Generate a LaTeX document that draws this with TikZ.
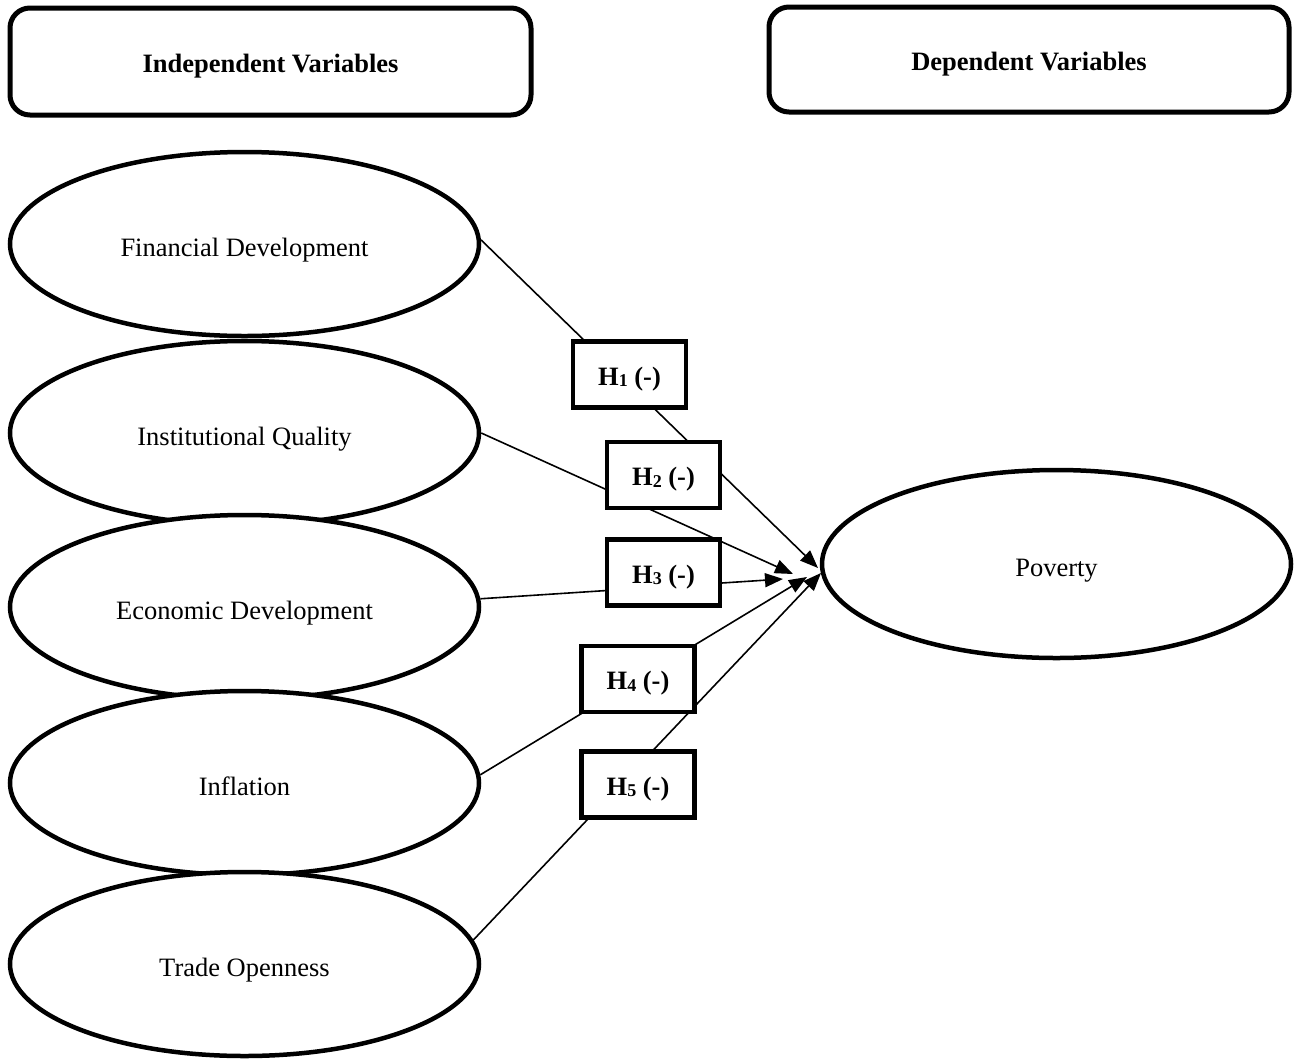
\documentclass[tikz,border=0pt]{standalone}
\usepackage{fontspec}
\setmainfont{Liberation Serif}
\usetikzlibrary{shapes.geometric,arrows.meta}
\newcommand{\hsub}[1]{\raisebox{-1.5pt}{\fontsize{18}{18}\selectfont #1}}
\begin{document}
\begin{tikzpicture}[x=1pt,y=-1pt,
  var/.style={ellipse,draw,line width=4.5pt,fill=white,minimum width=469pt,minimum height=184pt,inner sep=0pt,font=\fontsize{26.5}{30}\selectfont,text height=30pt,text depth=6pt},
  titlebox/.style={draw,line width=5pt,rounded corners=20pt,inner sep=0pt,font=\fontsize{26.5}{30}\selectfont\bfseries,text height=28pt,text depth=6pt},
  hyp/.style={draw,line width=4.5pt,fill=white,minimum width=113pt,minimum height=66pt,inner sep=0pt,font=\fontsize{26.5}{30}\selectfont\bfseries,text height=27pt,text depth=6pt},
  arr/.style={line width=1.6pt,-{Triangle[length=18pt,width=14pt]}}
]
\useasboundingbox (0,0) rectangle (1296,1061);

\node[titlebox,minimum width=521pt,minimum height=107pt] (indep) at (270.5,61.5) {Independent Variables};
\node[titlebox,minimum width=520pt,minimum height=105pt] (dep) at (1029,59.5) {Dependent Variables};

\node[var] (fd) at (244.5,244) {Financial Development};
\node[var] (iq) at (244.5,433) {Institutional Quality};
\node[var] (ed) at (244.5,607) {Economic Development};
\node[var] (inf) at (244.5,783) {Inflation};
\node[var] (to) at (244.5,964) {Trade Openness};

\node[var,minimum height=188pt] (pov) at (1056.5,564) {Poverty};

\coordinate (t1) at (818,568);
\coordinate (t2) at (793,574);
\coordinate (t3) at (783,579);
\coordinate (t4) at (807,577);
\coordinate (t5) at (821,573);

\draw[arr] (fd.1) -- (t1);
\draw[arr] (iq.east) -- (t2);
\draw[arr] (ed.2) -- (t3);
\draw[arr] (inf.2) -- (t4);
\draw[arr] (to.6) -- (t5);

\node[hyp] (h1) at (629.5,374.5) {H\hsub{1} (-)};
\node[hyp] (h2) at (663.5,475) {H\hsub{2} (-)};
\node[hyp] (h3) at (663.5,572.5) {H\hsub{3} (-)};
\node[hyp] (h4) at (638,679) {H\hsub{4} (-)};
\node[hyp] (h5) at (638,784.5) {H\hsub{5} (-)};
\end{tikzpicture}
\end{document}
